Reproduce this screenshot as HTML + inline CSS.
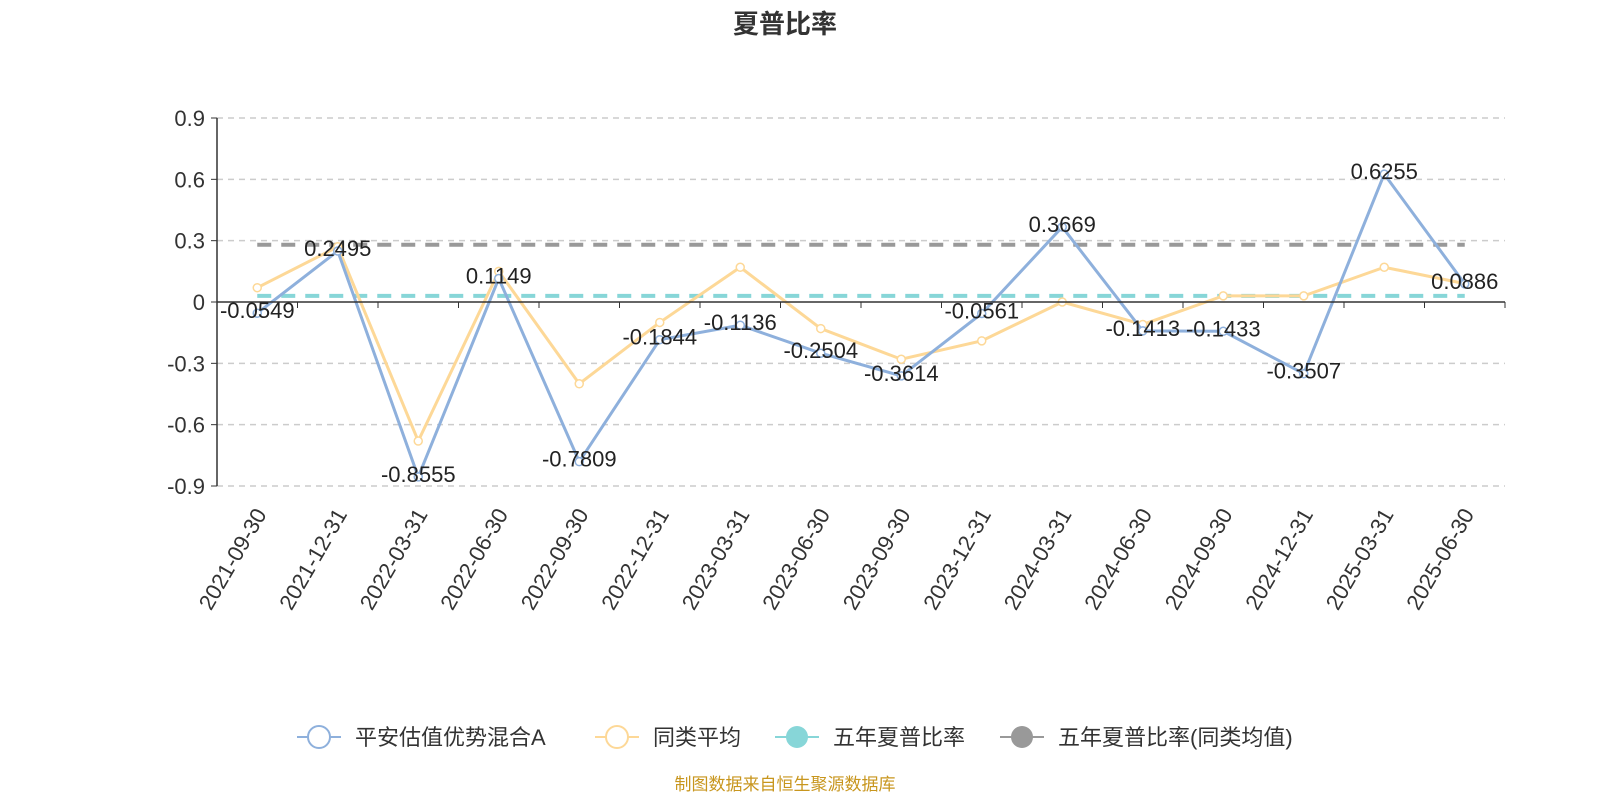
<!DOCTYPE html>
<html><head><meta charset="utf-8"><style>
body{margin:0;background:#fff;}
svg text{font-family:"Liberation Sans","Noto Sans CJK SC",sans-serif;}
</style></head><body>
<svg id="chart" width="1600" height="800" xmlns="http://www.w3.org/2000/svg">
<text x="785" y="33" text-anchor="middle" font-size="26" font-weight="bold" fill="#333">夏普比率</text>
<g id="grid"></g><g id="lines"></g><g id="axes"></g><g id="labels"></g>
<g>
<g><line x1="297" y1="737" x2="341" y2="737" stroke="#8eb0dc" stroke-width="2"/><circle cx="319" cy="737" r="11" fill="#fff" stroke="#8eb0dc" stroke-width="2"/><text x="355" y="745" font-size="22" fill="#333">平安估值优势混合A</text></g>
<g><line x1="595" y1="737" x2="639" y2="737" stroke="#fdd897" stroke-width="2"/><circle cx="617" cy="737" r="11" fill="#fff" stroke="#fdd897" stroke-width="2"/><text x="653" y="745" font-size="22" fill="#333">同类平均</text></g>
<g><line x1="775" y1="737" x2="819" y2="737" stroke="#87d6d8" stroke-width="2"/><circle cx="797" cy="737" r="11" fill="#87d6d8"/><text x="833" y="745" font-size="22" fill="#333">五年夏普比率</text></g>
<g><line x1="1000" y1="737" x2="1044" y2="737" stroke="#999" stroke-width="2"/><circle cx="1022" cy="737" r="11" fill="#999"/><text x="1058" y="745" font-size="22" fill="#333">五年夏普比率(同类均值)</text></g>
</g>
<text x="785" y="790" text-anchor="middle" font-size="17" fill="#c8961e">制图数据来自恒生聚源数据库</text>
</svg>
<script>
const categories=["2021-09-30","2021-12-31","2022-03-31","2022-06-30","2022-09-30","2022-12-31","2023-03-31","2023-06-30","2023-09-30","2023-12-31","2024-03-31","2024-06-30","2024-09-30","2024-12-31","2025-03-31","2025-06-30"];
const fundValues=[-0.0549,0.2495,-0.8555,0.1149,-0.7809,-0.1844,-0.1136,-0.2504,-0.3614,-0.0561,0.3669,-0.1413,-0.1433,-0.3507,0.6255,0.0886];
const peerValues=[0.07,0.27,-0.68,0.15,-0.40,-0.10,0.17,-0.13,-0.28,-0.19,0.00,-0.11,0.03,0.03,0.17,0.09];
const fiveYear=0.03;
const fiveYearPeer=0.28;
const yTicks=[0.9,0.6,0.3,0,-0.3,-0.6,-0.9];
const NS="http://www.w3.org/2000/svg";
const L=217,R=1505,T=118,B=486;
const bw=(R-L)/categories.length;
const x=i=>L+bw*(i+0.5);
const y=v=>T+(0.9-v)/1.8*(B-T);
function mk(tag,attrs,parent,txt){const e=document.createElementNS(NS,tag);for(const k in attrs)e.setAttribute(k,attrs[k]);if(txt!==undefined)e.textContent=txt;document.getElementById(parent).appendChild(e);return e;}
yTicks.forEach(v=>{
 if(v!==0){const g=mk('line',{x1:L,x2:R,y1:y(v),y2:y(v),stroke:'#ccc','stroke-dasharray':'6,5','stroke-width':1.5},'grid');
 
 }
 const t=mk('text',{x:L-12,y:y(v)+8,'text-anchor':'end','font-size':22,fill:'#333'},'axes',String(v));
 
 
 mk('line',{x1:L-6,x2:L,y1:y(v),y2:y(v),stroke:'#333'},'axes');
});
const ya=mk('line',{x1:L,x2:L,y1:T,y2:B,stroke:'#333','stroke-width':1.5},'axes');


const xa=mk('line',{x1:L,x2:R,y1:y(0),y2:y(0),stroke:'#333','stroke-width':1.5},'axes');


for(let i=0;i<=categories.length;i++)mk('line',{x1:L+bw*i,x2:L+bw*i,y1:y(0),y2:y(0)+6,stroke:'#333'},'axes');
categories.forEach((c,i)=>{
 const t=mk('text',{x:x(i)+10,y:514,'text-anchor':'end','font-size':22,fill:'#333',transform:`rotate(-60 ${x(i)+10} 514)`},'axes',c);
 
 
});
const h1=mk('line',{x1:x(0),x2:x(categories.length-1),y1:y(fiveYear),y2:y(fiveYear),stroke:'#87d6d8','stroke-width':4,'stroke-dasharray':'14,10'},'lines');


const h2=mk('line',{x1:x(0),x2:x(categories.length-1),y1:y(fiveYearPeer),y2:y(fiveYearPeer),stroke:'#999','stroke-width':4,'stroke-dasharray':'14,10'},'lines');


function series(vals,color,name){
 const p=mk('polyline',{points:vals.map((v,i)=>x(i)+','+y(v)).join(' '),fill:'none',stroke:color,'stroke-width':3},'lines');
 
 
 vals.forEach((v,i)=>{const c=mk('circle',{cx:x(i),cy:y(v),r:4,fill:'#fff',stroke:color,'stroke-width':1.5},'lines');
 
 });
}
series(peerValues,'#fdd897','peer-avg');
series(fundValues,'#8eb0dc','fund');
fundValues.forEach((v,i)=>{
 const t=mk('text',{x:x(i),y:y(v)+5,'text-anchor':'middle','font-size':22,fill:'#222'},'labels',String(v));
 
 
});
</script>
</body></html>
